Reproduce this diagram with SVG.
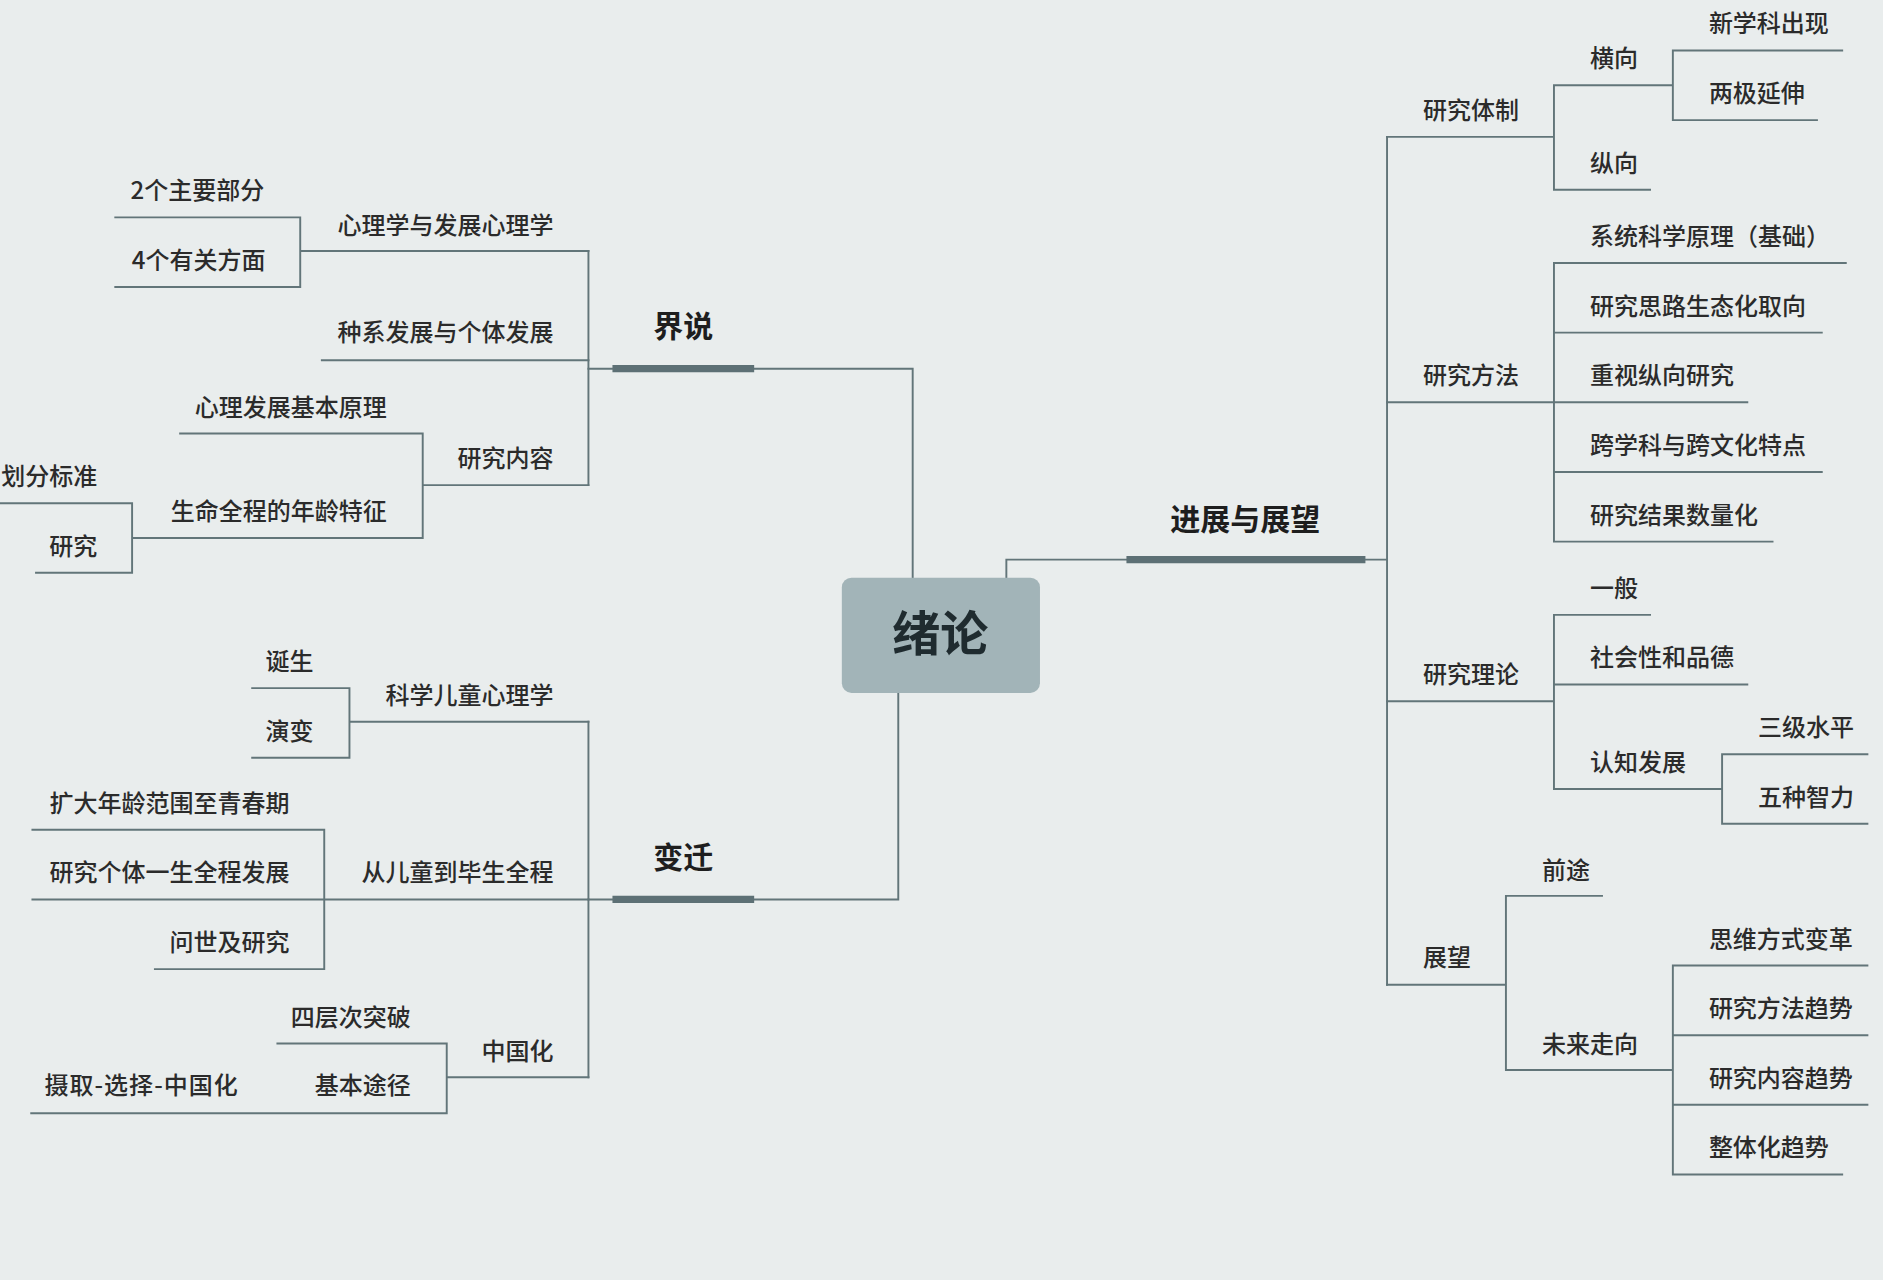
<svg xmlns="http://www.w3.org/2000/svg" width="1883" height="1280" viewBox="0 0 1883 1280">
<style>
.ln{fill:none;stroke:#627579;stroke-width:1.6;stroke-linecap:square}
.bar{fill:none;stroke:#5d7075;stroke-width:6}
text{font-family:"Noto Sans CJK SC","Noto Sans",sans-serif;fill:#2b2b2b}
.t{font-size:20px;font-weight:500}
.l{text-anchor:end}
.h{font-size:25px;font-weight:bold;text-anchor:middle;fill:#1e1e1e}
.c{font-size:40px;font-weight:bold;text-anchor:middle;fill:#1f2b2f}
</style>
<rect width="1883" height="1280" fill="#e9eded"/>
<g transform="scale(1.2009)">
<g id="connectors">
<path class="ln" d="M760,481V307H628M748,577V749H628M838,481V466H938"/>
<path class="bar" d="M510,307H628M510,749H628M938,466H1137"/>
<path class="ln" d="M490,307H510M490,749H510M1137,466H1155"/>
<path class="ln" d="M490,209V404M490,601V897M1155,114V820"/>
<path class="ln" d="M250,209H490M268,300H490M352,404H490M250,181V239M96,181H250M96,239H250M352,361V448M150,361H352M110,448H352M110,419V477M0,419H110M30,477H110"/>
<path class="ln" d="M291,601H490M291,573V631M210,573H291M210,631H291M27,749H490M270,691V807M27,691H270M129,807H270M372,897H490M372,869V927M231,869H372M26,927H372"/>
<path class="ln" d="M1155,114H1294M1294,71V158M1294,71H1393M1294,158H1374M1393,42V100M1393,42H1534M1393,100H1513"/>
<path class="ln" d="M1155,335H1294M1294,219V451M1294,219H1537M1294,277H1517M1294,335H1455M1294,393H1517M1294,451H1476"/>
<path class="ln" d="M1155,584H1294M1294,512V657M1294,512H1374M1294,570H1455M1294,657H1434M1434,628V686M1434,628H1555M1434,686H1555"/>
<path class="ln" d="M1155,820H1254M1254,746V891M1254,746H1334M1254,891H1393M1393,804V978M1393,804H1555M1393,862H1555M1393,920H1555M1393,978H1534"/>
</g>
<g id="root"><rect x="701" y="481" width="165" height="96" rx="8" fill="#a2b4b8"/><text class="c" x="783" y="542">绪论</text></g>
<g id="jieshuo"><text class="h" x="569" y="281">界说</text></g>
<g id="bianqian"><text class="h" x="569" y="723">变迁</text></g>
<g id="jinzhan"><text class="h" x="1037" y="441">进展与展望</text></g>
<g id="n1"><text class="t l" x="461" y="195">心理学与发展心理学</text></g>
<g id="n2"><text class="t l" x="461" y="284">种系发展与个体发展</text></g>
<g id="n3"><text class="t l" x="461" y="389">研究内容</text></g>
<g id="n4"><text class="t l" x="220" y="166">2个主要部分</text></g>
<g id="n5"><text class="t l" x="221" y="224">4个有关方面</text></g>
<g id="n6"><text class="t l" x="322" y="346">心理发展基本原理</text></g>
<g id="n7"><text class="t l" x="322" y="433">生命全程的年龄特征</text></g>
<g id="n8"><text class="t l" x="81" y="404">划分标准</text></g>
<g id="n9"><text class="t l" x="81" y="462">研究</text></g>
<g id="n10"><text class="t l" x="461" y="586">科学儿童心理学</text></g>
<g id="n11"><text class="t l" x="461" y="734">从儿童到毕生全程</text></g>
<g id="n12"><text class="t l" x="461" y="883">中国化</text></g>
<g id="n13"><text class="t l" x="261" y="558">诞生</text></g>
<g id="n14"><text class="t l" x="261" y="616">演变</text></g>
<g id="n15"><text class="t l" x="241" y="676">扩大年龄范围至青春期</text></g>
<g id="n16"><text class="t l" x="241" y="734">研究个体一生全程发展</text></g>
<g id="n17"><text class="t l" x="241" y="792">问世及研究</text></g>
<g id="n18"><text class="t l" x="342" y="854">四层次突破</text></g>
<g id="n19"><text class="t l" x="342" y="911">基本途径</text></g>
<g id="n20"><text class="t" x="37" y="911" textLength="161" lengthAdjust="spacing">摄取-选择-中国化</text></g>
<g id="r1"><text class="t" x="1185" y="99">研究体制</text></g>
<g id="r2"><text class="t" x="1185" y="320">研究方法</text></g>
<g id="r3"><text class="t" x="1185" y="569">研究理论</text></g>
<g id="r4"><text class="t" x="1185" y="804">展望</text></g>
<g id="r5"><text class="t" x="1324" y="56">横向</text></g>
<g id="r6"><text class="t" x="1324" y="143">纵向</text></g>
<g id="r7"><text class="t" x="1423" y="27">新学科出现</text></g>
<g id="r8"><text class="t" x="1423" y="85">两极延伸</text></g>
<g id="r9"><text class="t" x="1324" y="204">系统科学原理（基础）</text></g>
<g id="r10"><text class="t" x="1324" y="262">研究思路生态化取向</text></g>
<g id="r11"><text class="t" x="1324" y="320">重视纵向研究</text></g>
<g id="r12"><text class="t" x="1324" y="378">跨学科与跨文化特点</text></g>
<g id="r13"><text class="t" x="1324" y="436">研究结果数量化</text></g>
<g id="r14"><text class="t" x="1324" y="497">一般</text></g>
<g id="r15"><text class="t" x="1324" y="555">社会性和品德</text></g>
<g id="r16"><text class="t" x="1324" y="642">认知发展</text></g>
<g id="r17"><text class="t" x="1464" y="613">三级水平</text></g>
<g id="r18"><text class="t" x="1464" y="671">五种智力</text></g>
<g id="r19"><text class="t" x="1284" y="732">前途</text></g>
<g id="r20"><text class="t" x="1284" y="877">未来走向</text></g>
<g id="r21"><text class="t" x="1423" y="789">思维方式变革</text></g>
<g id="r22"><text class="t" x="1423" y="847">研究方法趋势</text></g>
<g id="r23"><text class="t" x="1423" y="905">研究内容趋势</text></g>
<g id="r24"><text class="t" x="1423" y="963">整体化趋势</text></g>
</g>
</svg>
